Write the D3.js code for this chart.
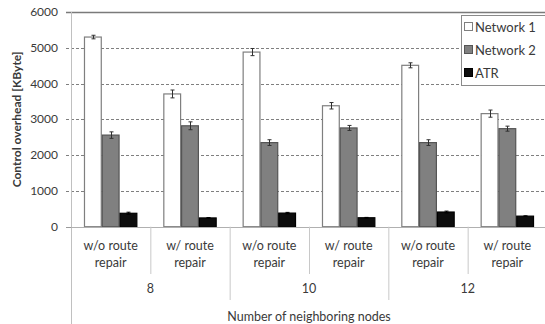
<!DOCTYPE html>
<html>
<head>
<meta charset="utf-8">
<script src="https://cdn.jsdelivr.net/npm/d3@7"></script>
<style>
  body { margin: 0; background: #fff; }
  svg text { font-family: Lato, "Liberation Sans", sans-serif; fill: #3a3a3a; }
</style>
</head>
<body>
<div class="graphic"></div>
<script>
const W = 545, H = 324;

// data
const groups = ["8", "10", "12"];
const subLabels = [["w/o route", "repair"], ["w/ route", "repair"]];
const seriesNames = ["Network 1", "Network 2", "ATR"];
const network1 = [5300, 3710, 4880, 3380, 4510, 3160];
const network1Err = [50, 110, 100, 90, 70, 100];
const network2 = [2560, 2820, 2350, 2760, 2350, 2740];
const network2Err = [90, 110, 80, 70, 80, 70];
const atr = [375, 245, 380, 250, 410, 295];
const atrErr = [30, 10, 20, 10, 25, 10];
const yTicks = [0, 1000, 2000, 3000, 4000, 5000, 6000];

const fills = ["#ffffff", "#808080", "#0d0d0d"];
const strokes = ["#7f7f7f", "#555555", "#000000"];

const cats = d3.range(groups.length * subLabels.length);
const values = [network1, network2, atr];
const errs = [network1Err, network2Err, atrErr];

const plotLeft = 71, plotRight = 547, plotTop = 12, base = 226.7;

var x = d3.scaleBand().domain(cats).range([plotLeft, plotRight]);
var xs = d3.scaleBand().domain(seriesNames).range([0, x.bandwidth()]).paddingOuter(0.73);
var y = d3.scaleLinear().domain([0, 6000]).range([base, plotTop]);

var svg = d3.select(".graphic")
  .append("svg")
  .attr("width", W)
  .attr("height", H);

// dashed gridlines
svg.append("g")
  .selectAll("line")
  .data(yTicks.filter(t => t > 0 && t < 6000))
  .enter()
  .append("line")
  .attr("x1", plotLeft - 5)
  .attr("x2", W)
  .attr("y1", d => Math.round(y(d)) + 0.5)
  .attr("y2", d => Math.round(y(d)) + 0.5)
  .style("stroke", "#7f7f7f")
  .style("stroke-dasharray", "3,2");

// top line
svg.append("line")
  .attr("x1", plotLeft - 5).attr("x2", W)
  .attr("y1", Math.round(y(6000)) + 0.5).attr("y2", Math.round(y(6000)) + 0.5)
  .style("stroke", "#7a7a7a").style("stroke-width", 1.3);

// y axis
svg.append("line")
  .attr("x1", plotLeft + 0.5).attr("x2", plotLeft + 0.5)
  .attr("y1", plotTop).attr("y2", H)
  .style("stroke", "#c0c0c0");
svg.append("line")
  .attr("x1", plotLeft - 5).attr("x2", plotLeft)
  .attr("y1", Math.round(base) + 0.5).attr("y2", Math.round(base) + 0.5)
  .style("stroke", "#9a9a9a");

svg.append("g")
  .selectAll("text")
  .data(yTicks)
  .enter()
  .append("text")
  .attr("x", 58)
  .attr("y", d => y(d) + 4)
  .attr("text-anchor", "end")
  .style("font-size", "12px")
  .text(d => d);

svg.append("text")
  .attr("transform", "translate(21," + ((plotTop + base) / 2) + ") rotate(-90)")
  .attr("text-anchor", "middle")
  .style("font-size", "12px")
  .style("font-weight", "bold")
  .text("Control overhead [KByte]");

// bars
seriesNames.forEach((s, si) => {
  var g = svg.append("g");
  g.selectAll("rect")
    .data(cats)
    .enter()
    .append("rect")
    .attr("x", i => x(i) + xs(s) + 0.5)
    .attr("y", i => y(values[si][i]))
    .attr("width", xs.bandwidth() - 1)
    .attr("height", i => base - y(values[si][i]))
    .style("fill", fills[si])
    .style("stroke", strokes[si])
    .style("stroke-width", 1.2);

  // error bars
  g.selectAll("path")
    .data(cats)
    .enter()
    .append("path")
    .attr("d", i => {
      var cx = Math.round(x(i) + xs(s) + xs.bandwidth() / 2) + 0.5;
      var y1 = y(values[si][i] + errs[si][i]);
      var y2 = y(values[si][i] - errs[si][i]);
      return "M" + cx + "," + y1 + "V" + y2 +
        "M" + (cx - 2) + "," + y1 + "H" + (cx + 2) +
        "M" + (cx - 2) + "," + y2 + "H" + (cx + 2);
    })
    .style("fill", "none")
    .style("stroke", si == 2 ? "#000" : "#303030")
    .style("stroke-width", 1);
});

// x baseline
svg.append("line")
  .attr("x1", plotLeft).attr("x2", W)
  .attr("y1", Math.round(base) + 0.5).attr("y2", Math.round(base) + 0.5)
  .style("stroke", "#b0b0b0");

// separators below axis
svg.append("g")
  .selectAll("line")
  .data(d3.range(1, cats.length + 1))
  .enter()
  .append("line")
  .attr("x1", i => (i < cats.length ? x(i) : plotRight) + 0.5)
  .attr("x2", i => (i < cats.length ? x(i) : plotRight) + 0.5)
  .attr("y1", base)
  .attr("y2", i => i % 2 == 0 ? 300 : 274)
  .style("stroke", "#c8c8c8");

// sub category labels
cats.forEach(i => {
  var lbl = subLabels[i % 2];
  lbl.forEach((t, li) => {
    svg.append("text")
      .attr("x", x(i) + x.bandwidth() / 2)
      .attr("y", 250 + li * 17)
      .attr("text-anchor", "middle")
      .style("font-size", "12.5px")
      .text(t);
  });
});

// group labels
svg.append("g")
  .selectAll("text")
  .data(groups)
  .enter()
  .append("text")
  .attr("x", (d, gi) => x(gi * 2 + 1))
  .attr("y", 293)
  .attr("text-anchor", "middle")
  .style("font-size", "12.5px")
  .text(d => d);

svg.append("text")
  .attr("x", (plotLeft + plotRight) / 2)
  .attr("y", 321)
  .attr("text-anchor", "middle")
  .style("font-size", "12.5px")
  .text("Number of neighboring nodes");

// legend
var legend = svg.append("g");
legend.append("rect")
  .attr("x", 461.5).attr("y", 15.5)
  .attr("width", 90).attr("height", 70)
  .style("fill", "#fff")
  .style("stroke", "#8a8a8a");
seriesNames.forEach((s, si) => {
  var cy = 27 + si * 23;
  legend.append("rect")
    .attr("x", 464.5).attr("y", cy - 4.5)
    .attr("width", 8).attr("height", 8)
    .style("fill", fills[si])
    .style("stroke", strokes[si]);
  legend.append("text")
    .attr("x", 475)
    .attr("y", cy + 4.5)
    .style("font-size", "13px")
    .text(s);
});
</script>
</body>
</html>
